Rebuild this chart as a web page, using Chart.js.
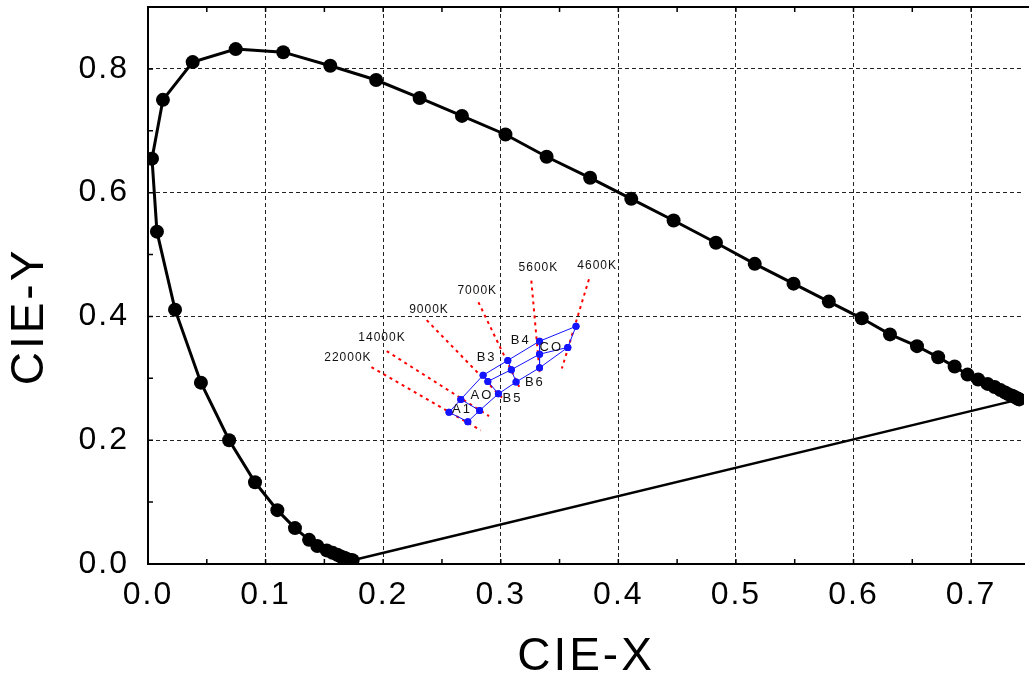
<!DOCTYPE html>
<html>
<head>
<meta charset="utf-8">
<script src="https://cdn.jsdelivr.net/npm/chart.js@4.4.1/dist/chart.umd.min.js"></script>
<style>
  html, body { margin: 0; padding: 0; background: #fff; }
  canvas { display: block; }
</style>
</head>
<body>
<canvas id="cieChart" width="1031" height="675"></canvas>
<script>
// spectral locus (violet end -> red end)
const locusX = [0.174, 0.173, 0.172, 0.171, 0.169, 0.167, 0.164, 0.161, 0.157, 0.152, 0.144, 0.137, 0.125, 0.110, 0.091,
  0.069, 0.045, 0.023, 0.0076, 0.0034, 0.0127, 0.038, 0.0746, 0.115, 0.155, 0.194, 0.231, 0.267, 0.304, 0.339,
  0.376, 0.411, 0.447, 0.483, 0.516, 0.549, 0.579, 0.607, 0.631, 0.654, 0.672, 0.686, 0.697, 0.706, 0.714,
  0.720, 0.725, 0.729, 0.732, 0.735, 0.737, 0.739, 0.740, 0.741]
const locusY = [0.006, 0.006, 0.006, 0.007, 0.008, 0.010, 0.012, 0.015, 0.018, 0.022, 0.029, 0.039, 0.058, 0.087, 0.132,
  0.200, 0.293, 0.411, 0.537, 0.655, 0.750, 0.811, 0.832, 0.827, 0.805, 0.782, 0.753, 0.724, 0.694, 0.658,
  0.624, 0.590, 0.555, 0.519, 0.485, 0.453, 0.424, 0.397, 0.371, 0.352, 0.334, 0.319, 0.306, 0.298, 0.291,
  0.286, 0.281, 0.277, 0.274, 0.272, 0.270, 0.268, 0.267, 0.266]

// blue region grid: upper row, middle row, lower row of points
const upperX = [0.256, 0.266, 0.285, 0.306, 0.333, 0.364]
const upperY = [0.245, 0.266, 0.305, 0.329, 0.360, 0.384]
const middleX = [0.289, 0.309, 0.333]
const middleY = [0.295, 0.314, 0.339]
const lowerX = [0.272, 0.282, 0.298, 0.313, 0.333, 0.357]
const lowerY = [0.230, 0.248, 0.275, 0.294, 0.317, 0.350]

const regionNames = ["A1", "AO", "B5", "B3", "B4", "CO", "B6"]
const regionX = [0.267, 0.284, 0.310, 0.288, 0.317, 0.343, 0.329]
const regionY = [0.250, 0.273, 0.268, 0.334, 0.361, 0.350, 0.294]

// isotemperature lines
const isoNames = ["22000K", "14000K", "9000K", "7000K", "5600K", "4600K"]
const isoStartX = [0.190, 0.203, 0.237, 0.281, 0.326, 0.375]
const isoStartY = [0.318, 0.344, 0.394, 0.423, 0.458, 0.460]
const isoEndX = [0.283, 0.290, 0.303, 0.316, 0.333, 0.352]
const isoEndY = [0.216, 0.239, 0.265, 0.285, 0.310, 0.316]
const isoLabelX = [0.170, 0.199, 0.239, 0.280, 0.332, 0.382]
const isoLabelY = [0.334, 0.365, 0.411, 0.442, 0.479, 0.482]

const xTitle = "CIE-X"
const yTitle = "CIE-Y"

function pts(xs, ys) {
  return xs.map((x, i) => ({ x: x, y: ys[i] }))
}

const BLUE = "#1414ff"
const datasets = []

const upper = pts(upperX, upperY)
const middle = pts(middleX, middleY)
const lower = pts(lowerX, lowerY)
const blueLines = [
  upper,
  middle.concat([lower[5]]),
  lower,
  [upper[0], lower[0]],
  [upper[1], lower[1]],
  [upper[2], middle[0], lower[2]],
  [upper[3], middle[1], lower[3]],
  [upper[4], middle[2], lower[4]],
  [upper[5], lower[5]],
]
blueLines.forEach(line => {
  datasets.push({
    data: line, showLine: true, borderColor: BLUE, backgroundColor: BLUE,
    borderWidth: 1, pointRadius: 3.5, pointBorderWidth: 0,
  })
})

isoNames.forEach((name, i) => {
  datasets.push({
    label: name,
    data: [{ x: isoStartX[i], y: isoStartY[i] }, { x: isoEndX[i], y: isoEndY[i] }],
    showLine: true, borderColor: "#ff0000", borderWidth: 2, borderDash: [3, 4], pointRadius: 0,
  })
})

datasets.push({
  data: pts(locusX, locusY), showLine: true, borderColor: "#000", backgroundColor: "#000",
  borderWidth: 3, pointRadius: 7, pointBorderWidth: 0,
})
const last = locusX.length - 1
datasets.push({
  data: [{ x: locusX[0], y: locusY[0] }, { x: locusX[last], y: locusY[last] }],
  showLine: true, borderColor: "#000", borderWidth: 2.5, pointRadius: 0,
})

// top frame line, inward minor ticks, labels and axis titles
const extras = {
  id: "extras",
  beforeDraw(chart) {
    chart.ctx.letterSpacing = "2px"
  },
  afterDraw(chart) {
    const { ctx, chartArea: a, scales: { x, y } } = chart
    ctx.save()
    ctx.strokeStyle = "#000"
    ctx.lineWidth = 2
    ctx.beginPath()
    ctx.moveTo(a.left, a.top)
    ctx.lineTo(a.right + 5, a.top)
    ctx.stroke()

    ctx.lineWidth = 1.5
    ctx.beginPath()
    for (let k = 1; k * 0.05 < x.max; k++) {
      const px = x.getPixelForValue(k * 0.05)
      ctx.moveTo(px, a.bottom); ctx.lineTo(px, a.bottom - 5)
      ctx.moveTo(px, a.top); ctx.lineTo(px, a.top + 5)
    }
    for (let k = 1; k * 0.1 < y.max; k++) {
      const py = y.getPixelForValue(k * 0.1)
      ctx.moveTo(a.left, py); ctx.lineTo(a.left + 5, py)
    }
    ctx.stroke()

    ctx.fillStyle = "#111"
    ctx.textAlign = "center"
    ctx.textBaseline = "middle"
    ctx.letterSpacing = "1px"
    ctx.font = "12px 'Liberation Sans', Arial, sans-serif"
    isoNames.forEach((name, i) => {
      ctx.fillText(name, x.getPixelForValue(isoLabelX[i]), y.getPixelForValue(isoLabelY[i]))
    })
    ctx.letterSpacing = "2px"
    ctx.font = "13px 'Liberation Sans', Arial, sans-serif"
    regionNames.forEach((name, i) => {
      ctx.fillText(name, x.getPixelForValue(regionX[i]), y.getPixelForValue(regionY[i]))
    })

    ctx.fillStyle = "#000"
    ctx.letterSpacing = "3px"
    ctx.font = "46px 'Liberation Sans', Arial, sans-serif"
    ctx.fillText(xTitle, (a.left + a.right) / 2, a.bottom + 93)
    ctx.translate(30, (a.top + a.bottom) / 2 + 31)
    ctx.rotate(-Math.PI / 2)
    ctx.fillText(yTitle, 0, 0)
    ctx.restore()
  },
}

const tickFont = { family: "'Liberation Sans', Arial, sans-serif", size: 32 }

const config = {
  type: "scatter",
  data: { datasets: datasets },
  options: {
    responsive: false,
    devicePixelRatio: 1,
    animation: false,
    events: [],
    layout: { padding: { top: 6, right: 5, left: 0, bottom: 0 } },
    plugins: { legend: { display: false }, tooltip: { enabled: false } },
    scales: {
      x: {
        type: "linear", min: 0, max: 0.745,
        afterFit: s => { s.height = 111; s.paddingRight = 0 },
        ticks: {
          stepSize: 0.1, includeBounds: false, color: "#000", font: tickFont, padding: 12,
          maxRotation: 0, callback: v => v.toFixed(1),
        },
        grid: { color: "#222", lineWidth: 1, drawTicks: false },
        border: { color: "#000", width: 2, dash: [4, 3] },
      },
      y: {
        type: "linear", min: 0, max: 0.9,
        afterFit: s => { s.width = 148; s.paddingTop = 0; s.paddingBottom = 0 },
        ticks: {
          stepSize: 0.2, includeBounds: false, color: "#000", font: tickFont, padding: 19,
          callback: v => v.toFixed(1),
        },
        grid: { color: "#222", lineWidth: 1, drawTicks: false },
        border: { color: "#000", width: 2, dash: [4, 3] },
      },
    },
  },
  plugins: [extras],
}

const cieChart = new Chart(document.getElementById("cieChart"), config)
</script>
</body>
</html>
